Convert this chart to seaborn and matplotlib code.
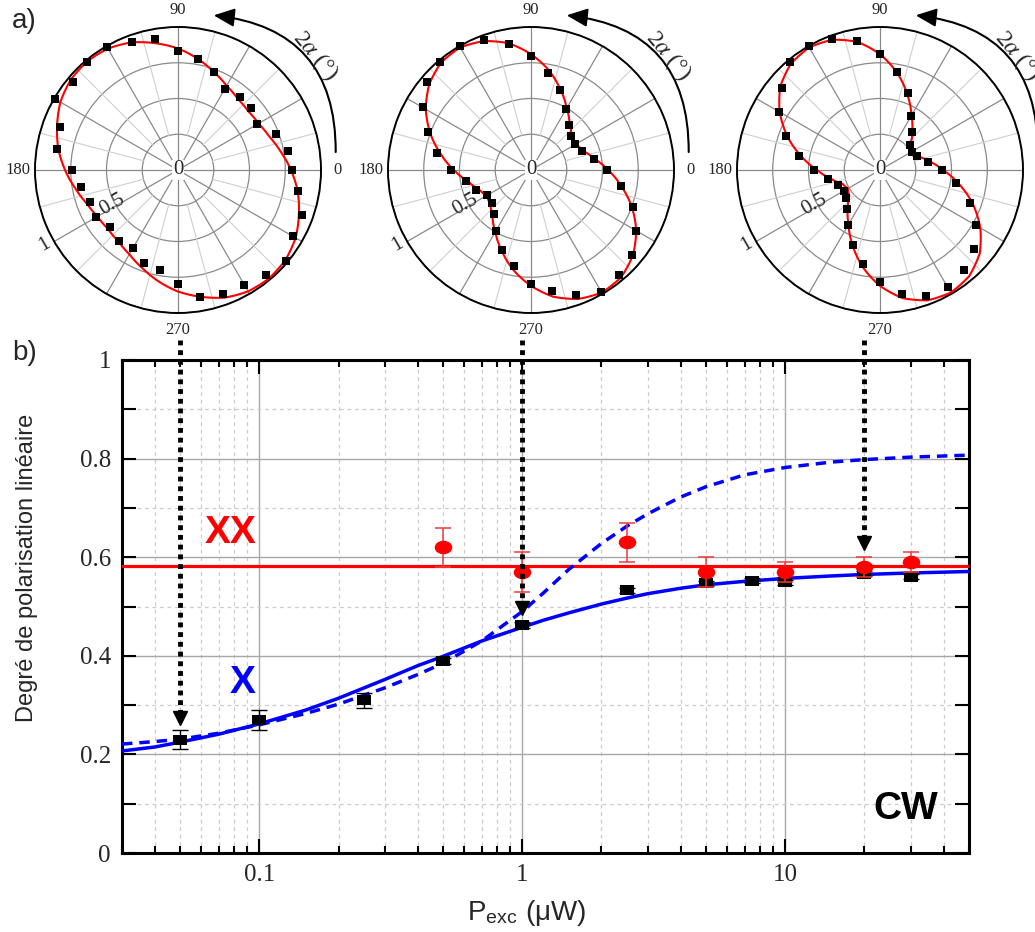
import numpy as np
import seaborn as sns
import matplotlib.pyplot as plt
from matplotlib.path import Path
from matplotlib.markers import MarkerStyle
from matplotlib.ticker import FixedLocator, NullFormatter

sns.set_theme(style='white')
plt.rcParams['font.family'] = ['Liberation Sans', 'DejaVu Sans']
plt.rcParams['mathtext.fontset'] = 'stix'
SERIF = 'Liberation Serif'

# ---- a) polar maps : angle 2alpha (deg) and normalised intensity ----
angle_deg = [0, 10, 20, 30, 40, 50, 60, 70, 80, 90, 100, 110, 120, 130, 140, 150, 160, 170,
             180, 190, 200, 210, 220, 230, 240, 250, 260, 270, 280, 290, 300, 310, 320, 330, 340, 350]

pts_005uW = [0.80, 0.78, 0.73, 0.64, 0.67, 0.67, 0.655, 0.73, 0.79, 0.83, 0.93, 0.95, 0.99, 0.99, 0.96, 0.99, 0.88, 0.86,
             0.74, 0.69, 0.655, 0.66, 0.62, 0.645, 0.63, 0.69, 0.71, 0.80, 0.90, 0.92, 0.93, 0.96, 0.99, 0.93, 0.92, 0.85]
fit_005uW = [0.79, 0.73, 0.68, 0.65, 0.64, 0.65, 0.68, 0.73, 0.79, 0.85, 0.90, 0.95, 0.98, 0.99, 0.98, 0.95, 0.90, 0.85,
             0.79, 0.73, 0.68, 0.65, 0.64, 0.65, 0.68, 0.73, 0.79, 0.85, 0.90, 0.95, 0.98, 0.99, 0.98, 0.95, 0.90, 0.85]

pts_1uW = [0.53, 0.445, 0.38, 0.358, 0.365, 0.41, 0.494, 0.593, 0.69, 0.80, 0.896, 0.966, 1.0, 0.99, 0.953, 0.876, 0.77, 0.666,
           0.562, 0.459, 0.41, 0.355, 0.36, 0.40, 0.49, 0.593, 0.683, 0.796, 0.862, 0.93, 0.984, 0.956, 0.925, 0.848, 0.758, 0.642]
fit_1uW = [0.54, 0.45, 0.39, 0.36, 0.37, 0.42, 0.50, 0.60, 0.71, 0.81, 0.90, 0.96, 0.99, 0.98, 0.93, 0.85, 0.75, 0.64,
           0.54, 0.45, 0.39, 0.36, 0.37, 0.42, 0.50, 0.60, 0.71, 0.81, 0.90, 0.96, 0.99, 0.98, 0.93, 0.85, 0.75, 0.64]

pts_20uW = [0.434, 0.34, 0.278, 0.257, 0.273, 0.345, 0.438, 0.573, 0.694, 0.808, 0.914, 0.977, 1.0, 0.983, 0.897, 0.817, 0.698, 0.573,
            0.464, 0.372, 0.312, 0.287, 0.31, 0.357, 0.448, 0.557, 0.67, 0.785, 0.88, 0.937, 0.946, 0.913, 0.86, 0.776, 0.669, 0.54]
fit_20uW = [0.44, 0.35, 0.28, 0.26, 0.28, 0.35, 0.44, 0.56, 0.69, 0.81, 0.91, 0.97, 0.99, 0.97, 0.91, 0.81, 0.69, 0.56,
            0.44, 0.35, 0.28, 0.26, 0.28, 0.35, 0.44, 0.56, 0.69, 0.81, 0.91, 0.97, 0.99, 0.97, 0.91, 0.81, 0.69, 0.56]

# ---- b) degree of linear polarisation vs excitation power ----
power_x = [0.05, 0.1, 0.25, 0.5, 1, 2.5, 5, 7.5, 10, 20, 30]
dop_x = [0.23, 0.27, 0.31, 0.39, 0.463, 0.533, 0.547, 0.552, 0.549, 0.566, 0.56]
err_x = [0.02, 0.02, 0.015, 0.006, 0.006, 0.005, 0.005, 0.005, 0.005, 0.005, 0.005]

power_xx = [0.5, 1, 2.5, 5, 10, 20, 30]
dop_xx = [0.62, 0.57, 0.63, 0.57, 0.57, 0.58, 0.59]
err_xx = [0.04, 0.04, 0.04, 0.03, 0.02, 0.02, 0.02]
xx_mean = 0.583

fit_power = [0.03, 0.04, 0.05, 0.07, 0.1, 0.15, 0.2, 0.3, 0.4, 0.5, 0.7, 1, 1.2, 1.5, 2, 2.5, 3, 4, 5, 7, 10, 15, 20, 30, 50]
fit_x_solid = [0.207, 0.215, 0.225, 0.241, 0.262, 0.29, 0.314, 0.352, 0.38, 0.399, 0.43, 0.458, 0.472, 0.487, 0.505,
               0.517, 0.526, 0.537, 0.544, 0.551, 0.557, 0.562, 0.565, 0.568, 0.571]
fit_x_dash = [0.221, 0.226, 0.231, 0.243, 0.26, 0.283, 0.302, 0.335, 0.362, 0.385, 0.43, 0.49, 0.527, 0.575, 0.628,
              0.663, 0.688, 0.722, 0.743, 0.767, 0.782, 0.793, 0.798, 0.803, 0.807]

arrow_power = [0.05, 1, 20]
arrow_tip = [0.26, 0.483, 0.615]

fig = plt.figure(figsize=(10.35, 9.32), dpi=100)

W, H = 1035, 932
R = 143
centers = [178, 531, 880]
panels = [(pts_005uW, fit_005uW), (pts_1uW, fit_1uW), (pts_20uW, fit_20uW)]
th = np.deg2rad(angle_deg)
th_closed = np.append(th, 2 * np.pi)

for cx, (pts, fit) in zip(centers, panels):
    rect = [(cx - R) / W, (H - 170 - R) / H, 2 * R / W, 2 * R / H]
    ax = fig.add_axes(rect, projection='polar')
    ax.set_facecolor('white')
    ax.set_ylim(0, 1)
    ax.set_yticks([0.25, 0.5, 0.75, 1.0])
    ax.set_yticklabels([])
    ax.set_thetagrids(range(0, 360, 30),
                      labels=['0', '', '', '90', '', '', '180', '', '', '270', '', ''],
                      fontsize=12, fontfamily=SERIF)
    ax.tick_params(axis='x', pad=-1)
    ax.grid(True, color='#8a8a8a', lw=0.9)
    for a in range(15, 360, 30):
        ax.plot([np.deg2rad(a)] * 2, [0.25, 1], color='#cfcfcf', lw=0.8, zorder=1)
    ax.spines['polar'].set_color('black')
    ax.spines['polar'].set_linewidth(1.4)

    sns.lineplot(x=th_closed, y=np.append(fit, fit[0]), ax=ax, color='red', lw=1.5,
                 sort=False, zorder=3)
    ax.lines[-1].get_path()._interpolation_steps = 12
    sns.scatterplot(x=th, y=pts, ax=ax, marker='s', s=34, color='black', linewidth=0,
                    clip_on=False, zorder=4)
    ax.set_xlabel('')
    ax.set_ylabel('')

    ax.text(0, 0, '0', ha='center', va='center', fontsize=15, family=SERIF, zorder=5,
            bbox=dict(fc='white', ec='none', pad=0.5))
    ax.text(np.deg2rad(208), 0.52, '0.5', ha='center', va='center', rotation=30,
            fontsize=15, family=SERIF, zorder=5)
    ax.text(np.deg2rad(209), 1.07, '1', ha='center', va='center', rotation=30,
            fontsize=15, family=SERIF)

    # rotation arrow 2alpha
    ax.annotate('', xy=(np.deg2rad(77), 1.11), xytext=(np.deg2rad(6.5), 1.11),
                arrowprops=dict(arrowstyle='-|>,head_length=0.9,head_width=0.4',
                                connectionstyle='arc3,rad=0.45', color='black', lw=1.5,
                                shrinkA=0, shrinkB=0, mutation_scale=14),
                annotation_clip=False)
    ax.text(np.deg2rad(40), 1.25, r'2$\alpha$ (°)', ha='center', va='center', rotation=-50,
            fontsize=17, family=SERIF)

fig.text(12 / W, 1 - 8 / H, 'a)', ha='left', va='top', fontsize=20)
fig.text(12 / W, 1 - 340 / H, 'b)', ha='left', va='top', fontsize=20)

# ---- bottom panel ----
ax = fig.add_axes([122 / W, (H - 853) / H, 847 / W, 493 / H])
ax.set_facecolor('white')
ax.set_xscale('log')
ax.set_xlim(0.03, 50)
ax.set_ylim(0, 1)
ax.set_xticks([0.1, 1, 10])
ax.set_xticklabels(['0.1', '1', '10'])
ax.xaxis.set_minor_formatter(NullFormatter())
ax.set_yticks([0, 0.2, 0.4, 0.6, 0.8, 1])
ax.set_yticklabels(['0', '0.2', '0.4', '0.6', '0.8', '1'])
ax.yaxis.set_minor_locator(FixedLocator([0.1, 0.3, 0.5, 0.7, 0.9]))
ax.set_axisbelow(True)
ax.grid(which='major', color='#a8a8a8', lw=1.0, ls='-')
ax.grid(which='minor', color='#cccccc', lw=0.9, ls=(0, (3, 3)))
ax.tick_params(which='both', direction='in', top=True, right=True, bottom=True, left=True,
               width=1.5, color='black', labelsize=18, pad=8)
ax.tick_params(which='major', length=10)
ax.tick_params(axis='x', which='minor', length=5)
ax.tick_params(axis='y', which='minor', length=10)
for lab in ax.get_xticklabels() + ax.get_yticklabels():
    lab.set_fontfamily(SERIF)
for sp in ax.spines.values():
    sp.set_color('black')
    sp.set_linewidth(2.2)

ax.axhline(xx_mean, color='red', lw=2.3, zorder=3)
sns.lineplot(x=fit_power, y=fit_x_solid, ax=ax, color='blue', lw=2.5, zorder=3)
sns.lineplot(x=fit_power, y=fit_x_dash, ax=ax, color='blue', lw=2.5,
             linestyle=(0, (3, 2)), zorder=3)

square = MarkerStyle(Path([(-1, -0.75), (1, -0.75), (1, 0.75), (-1, 0.75), (-1, -0.75)],
                          [Path.MOVETO, Path.LINETO, Path.LINETO, Path.LINETO, Path.CLOSEPOLY]))
circ = Path.unit_circle()
ellipse = MarkerStyle(Path(circ.vertices * [1, 0.77], circ.codes))

ax.errorbar(power_x, dop_x, yerr=err_x, fmt='none', ecolor='black', elinewidth=1,
            capsize=6, capthick=1, zorder=4)
sns.scatterplot(x=power_x, y=dop_x, ax=ax, marker=square, s=105, color='black',
                linewidth=0, zorder=5)
ax.errorbar(power_xx, dop_xx, yerr=err_xx, fmt='none', ecolor='#f23a3a', elinewidth=1.1,
            capsize=6, capthick=1.1, zorder=6)
sns.scatterplot(x=power_xx, y=dop_xx, ax=ax, marker=ellipse, s=160, color='red',
                linewidth=0, zorder=7)

for p, tip in zip(arrow_power, arrow_tip):
    ax.plot([p, p], [1.04, tip + 0.02], color='black', lw=3.5, ls=(0, (1, 1)),
            clip_on=False, zorder=8)
    ax.plot([p], [tip + 0.014], marker='v', ms=10, color='black', clip_on=False, zorder=8)

ax.text(0.062, 0.65, 'XX', color='red', fontsize=28, fontweight='bold', ha='left', va='center')
ax.text(0.077, 0.345, 'X', color='blue', fontsize=28, fontweight='bold', ha='left', va='center')
ax.text(38, 0.09, 'CW', color='black', fontsize=28, fontweight='bold', ha='right', va='center')

ax.set_ylabel('Degré de polarisation linéaire', fontsize=17)
ax.yaxis.set_label_coords(-0.099, 0.578)
ax.set_xlabel(r'P$_\mathregular{exc}$ (μW)', fontsize=20)
ax.xaxis.set_label_coords(0.478, -0.091)

fig.savefig('out.png', dpi=100)
